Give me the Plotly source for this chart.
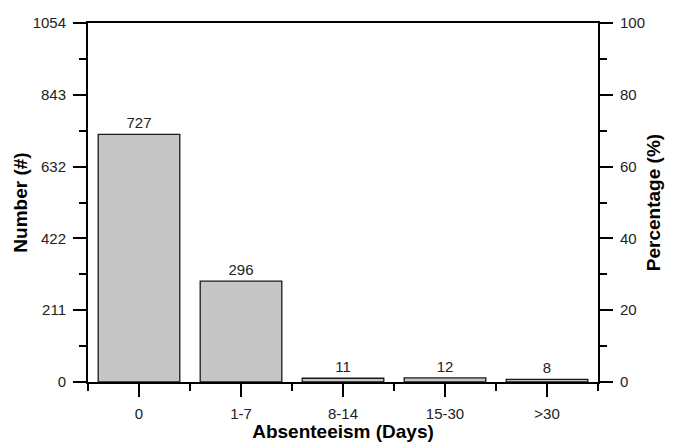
import plotly.graph_objects as go

categories = ["0", "1-7", "8-14", "15-30", ">30"]
counts = [727, 296, 11, 12, 8]
left_ticks = [0, 211, 422, 632, 843, 1054]
right_ticks = [0, 20, 40, 60, 80, 100]

xpos = list(range(len(categories)))
FONT = "Liberation Sans, Arial, sans-serif"

fig = go.Figure()
fig.add_trace(go.Bar(
    x=xpos, y=counts, width=0.8,
    marker=dict(color="#c6c6c6", line=dict(color="#1a1a1a", width=1.3)),
    text=[str(c) for c in counts], textposition="outside",
    textfont=dict(family=FONT, size=15, color="#222222"),
    outsidetextfont=dict(family=FONT, size=15, color="#222222"),
    cliponaxis=False, showlegend=False,
))
# invisible trace to activate the right axis
fig.add_trace(go.Scatter(x=[0], y=[0], yaxis="y2", mode="markers",
                         marker=dict(opacity=0), showlegend=False, hoverinfo="skip"))

axis_common = dict(showgrid=False, zeroline=False, showline=True, linecolor="black",
                   linewidth=2, ticks="outside", tickwidth=2, tickcolor="black",
                   ticklen=13, automargin=False,
                   tickfont=dict(family=FONT, size=15, color="#222"))
minor_common = dict(ticks="outside", ticklen=7, tickwidth=2, tickcolor="black",
                    tickmode="array")
title_font = dict(family=FONT, size=19, color="black")

fig.update_layout(
    width=675, height=442,
    margin=dict(l=88, r=77, t=23, b=60),
    paper_bgcolor="white", plot_bgcolor="white",
    bargap=0.2,
    xaxis=dict(**axis_common, range=[-0.5, 4.5], tickmode="array", tickvals=xpos,
               ticktext=categories, mirror=True, ticklabelstandoff=4,
               minor=dict(**minor_common, tickvals=[-0.5, 0.5, 1.5, 2.5, 3.5, 4.5]),
               title=dict(text="<b>Absenteeism (Days)</b>", standoff=0, font=title_font)),
    yaxis=dict(**axis_common, range=[0, 1054], tickmode="array", tickvals=left_ticks,
               ticklabelstandoff=4,
               minor=dict(**minor_common, tickvals=[105.4, 316.2, 527, 737.8, 948.6]),
               title=dict(text="<b>Number (#)</b>", standoff=0, font=title_font)),
    yaxis2=dict(**axis_common, overlaying="y", side="right", range=[0, 100],
                tickmode="array", tickvals=right_ticks, ticklabelstandoff=4,
                minor=dict(**minor_common, tickvals=[10, 30, 50, 70, 90]),
                title=dict(text="<b>Percentage (%)</b>", standoff=3, font=title_font)),
)

fig.write_html("out.html")
